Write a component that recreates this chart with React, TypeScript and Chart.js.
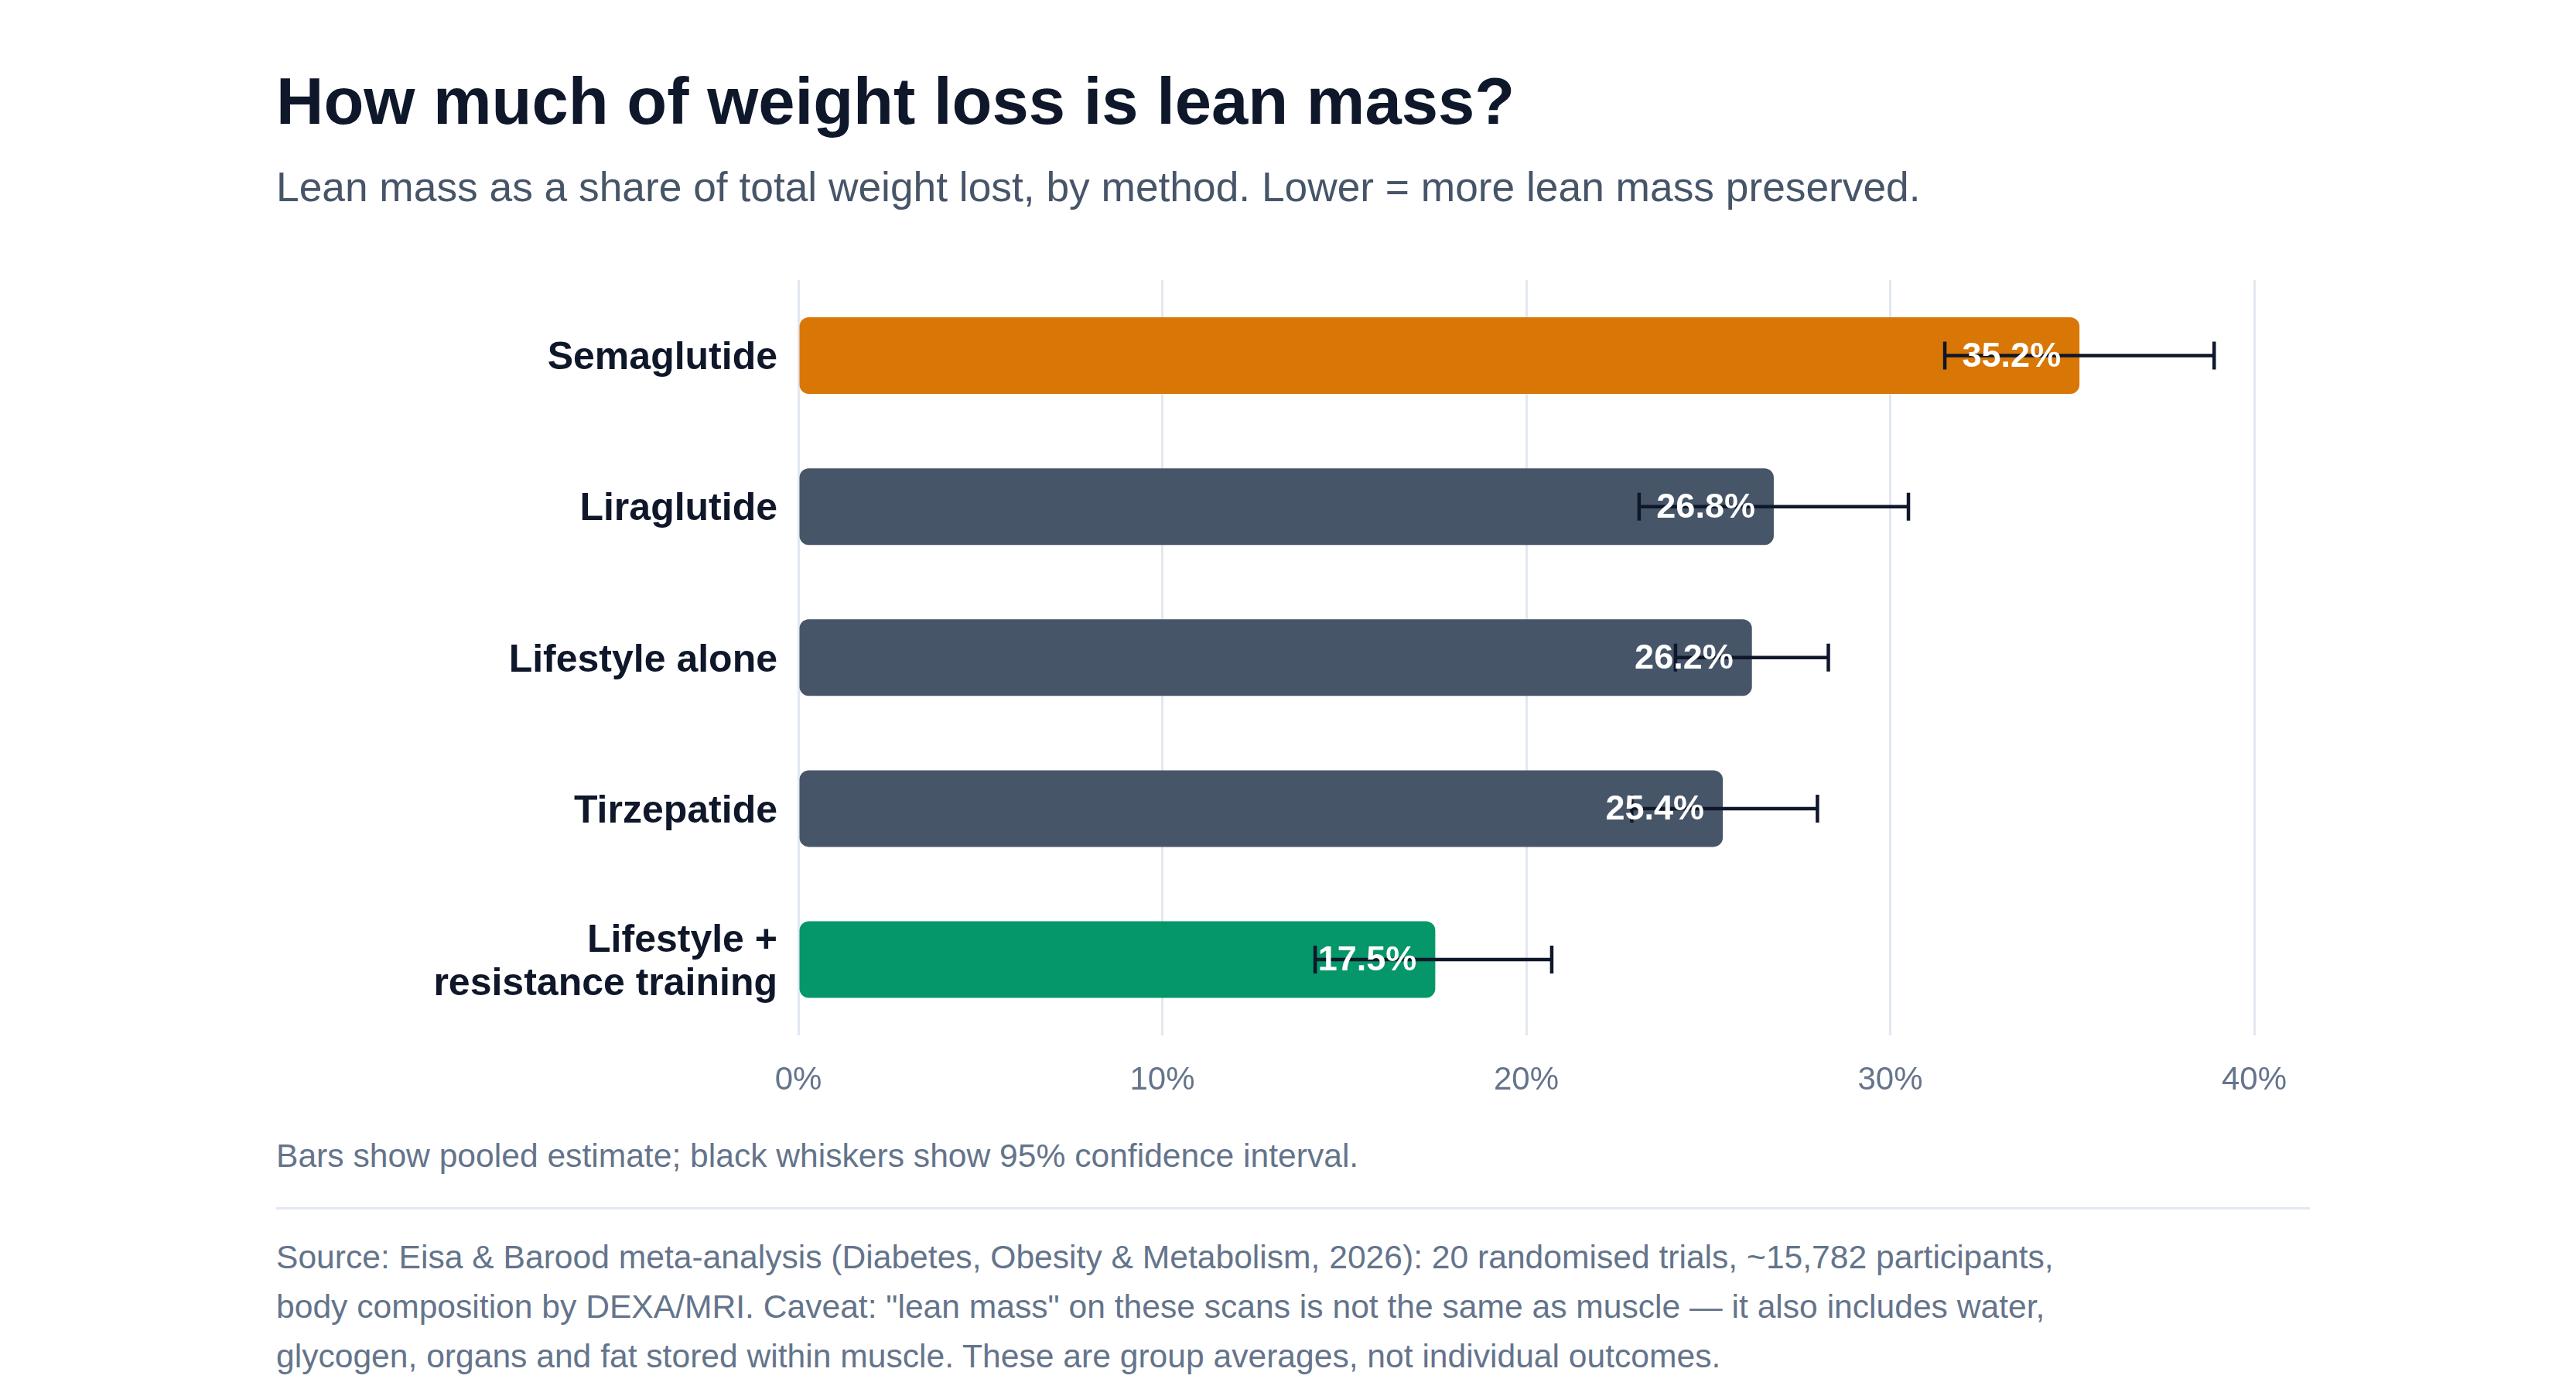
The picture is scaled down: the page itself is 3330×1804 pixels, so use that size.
import { useEffect, useRef } from "react";
import { Chart, registerables } from "chart.js";

Chart.register(...registerables);

// chart values
const categories: (string | string[])[] = [
  "Semaglutide",
  "Liraglutide",
  "Lifestyle alone",
  "Tirzepatide",
  ["Lifestyle +", "resistance training"],
];
const leanShare = [35.2, 26.8, 26.2, 25.4, 17.5];
const ciLow = [31.5, 23.1, 24.1, 22.9, 14.2];
const ciHigh = [38.9, 30.5, 28.3, 28.0, 20.7];
const barColors = ["#d97706", "#475569", "#475569", "#475569", "#059669"];
const xTicks = [0, 10, 20, 30, 40];

const FONT = '"Liberation Sans", Arial, Helvetica, sans-serif';

// whiskers + value labels drawn on top of the bars
const overlayPlugin = {
  id: "overlay",
  afterDatasetsDraw(chart: any) {
    const ctx = chart.ctx;
    const xScale = chart.scales.x;
    const meta = chart.getDatasetMeta(0);
    ctx.save();
    // 95% CI whiskers
    ctx.strokeStyle = "#0f172a";
    ctx.lineWidth = 4.5;
    meta.data.forEach((bar: any, i: number) => {
      const x1 = xScale.getPixelForValue(ciLow[i]);
      const x2 = xScale.getPixelForValue(ciHigh[i]);
      const y = bar.y;
      ctx.beginPath();
      ctx.moveTo(x1, y);
      ctx.lineTo(x2, y);
      ctx.moveTo(x1, y - 18);
      ctx.lineTo(x1, y + 18);
      ctx.moveTo(x2, y - 18);
      ctx.lineTo(x2, y + 18);
      ctx.stroke();
    });
    // value labels inside bar end
    ctx.fillStyle = "#ffffff";
    ctx.font = `bold 45px ${FONT}`;
    ctx.textAlign = "right";
    ctx.textBaseline = "middle";
    meta.data.forEach((bar: any, i: number) => {
      ctx.fillText(leanShare[i].toFixed(1) + "%", bar.x - 24, bar.y + 2);
    });
    ctx.restore();
  },
};

function LeanMassChart() {
  const canvasRef = useRef<HTMLCanvasElement | null>(null);

  useEffect(() => {
    if (!canvasRef.current) return;

    const chart = new Chart(canvasRef.current, {
      type: "bar",
      data: {
        labels: categories,
        datasets: [
          {
            data: leanShare,
            backgroundColor: barColors,
            borderRadius: 12,
            borderSkipped: false,
            categoryPercentage: 1,
            barPercentage: 0.507,
          },
        ],
      },
      options: {
        indexAxis: "y",
        animation: false,
        responsive: true,
        maintainAspectRatio: false,
        devicePixelRatio: 1,
        layout: { padding: { top: 32, right: 87, bottom: 0, left: 0 } },
        plugins: {
          legend: { display: false },
          tooltip: { enabled: false },
        },
        scales: {
          x: {
            min: 0,
            max: 40,
            afterBuildTicks: (scale: any) => {
              scale.ticks = xTicks.map((v) => ({ value: v }));
            },
            afterFit: (scale: any) => {
              scale.paddingLeft = 0;
              scale.paddingRight = 0;
            },
            border: { display: false },
            grid: { color: "#e2e8f0", lineWidth: 3, drawTicks: false },
            ticks: {
              padding: 34,
              color: "#64748b",
              font: { family: FONT, size: 42 },
              callback: (v: any) => v + "%",
            },
          },
          y: {
            afterFit: (scale: any) => {
              scale.width = 675;
              scale.paddingTop = 0;
              scale.paddingBottom = 0;
            },
            border: { display: false },
            grid: { display: false, drawTicks: false },
            ticks: {
              padding: 27,
              labelOffset: 4,
              color: "#0f172a",
              font: { family: FONT, size: 50, weight: "bold", lineHeight: 1.13 },
            },
          },
        },
      },
      plugins: [overlayPlugin],
    });

    return () => {
      chart.destroy();
    };
  }, []);

  return (
    <div style={{ position: "relative", width: 2644, height: 1126 }}>
      <canvas ref={canvasRef}></canvas>
    </div>
  );
}

export default function App() {
  return (
    <div
      style={{
        paddingLeft: 349,
        paddingTop: 73,
        fontFamily: FONT,
        background: "#ffffff",
      }}
    >
      <div
        style={{
          fontSize: 85,
          lineHeight: "100px",
          height: 100,
          fontWeight: "bold",
          color: "#0f172a",
        }}
      >
        How much of weight loss is lean mass?
      </div>
      <div
        style={{
          marginTop: 29,
          fontSize: 53.3,
          lineHeight: "64px",
          height: 64,
          color: "#475569",
        }}
      >
        Lean mass as a share of total weight lost, by method. Lower = more lean
        mass preserved.
      </div>
      <div style={{ marginTop: 56 }}>
        <LeanMassChart />
      </div>
      <div
        style={{
          marginTop: 5,
          fontSize: 42.6,
          lineHeight: "64px",
          color: "#64748b",
        }}
      >
        Bars show pooled estimate; black whiskers show 95% confidence interval.
      </div>
      <div
        style={{ marginTop: 35, width: 2629, height: 3, background: "#e2e8f0" }}
      ></div>
      <div
        style={{
          marginTop: 29,
          fontSize: 42.6,
          lineHeight: "64px",
          color: "#64748b",
        }}
      >
        Source: Eisa &amp; Barood meta-analysis (Diabetes, Obesity &amp;
        Metabolism, 2026): 20 randomised trials, ~15,782 participants,
        <br />
        body composition by DEXA/MRI. Caveat: "lean mass" on these scans is not
        the same as muscle — it also includes water,
        <br />
        glycogen, organs and fat stored within muscle. These are group averages,
        not individual outcomes.
      </div>
    </div>
  );
}
